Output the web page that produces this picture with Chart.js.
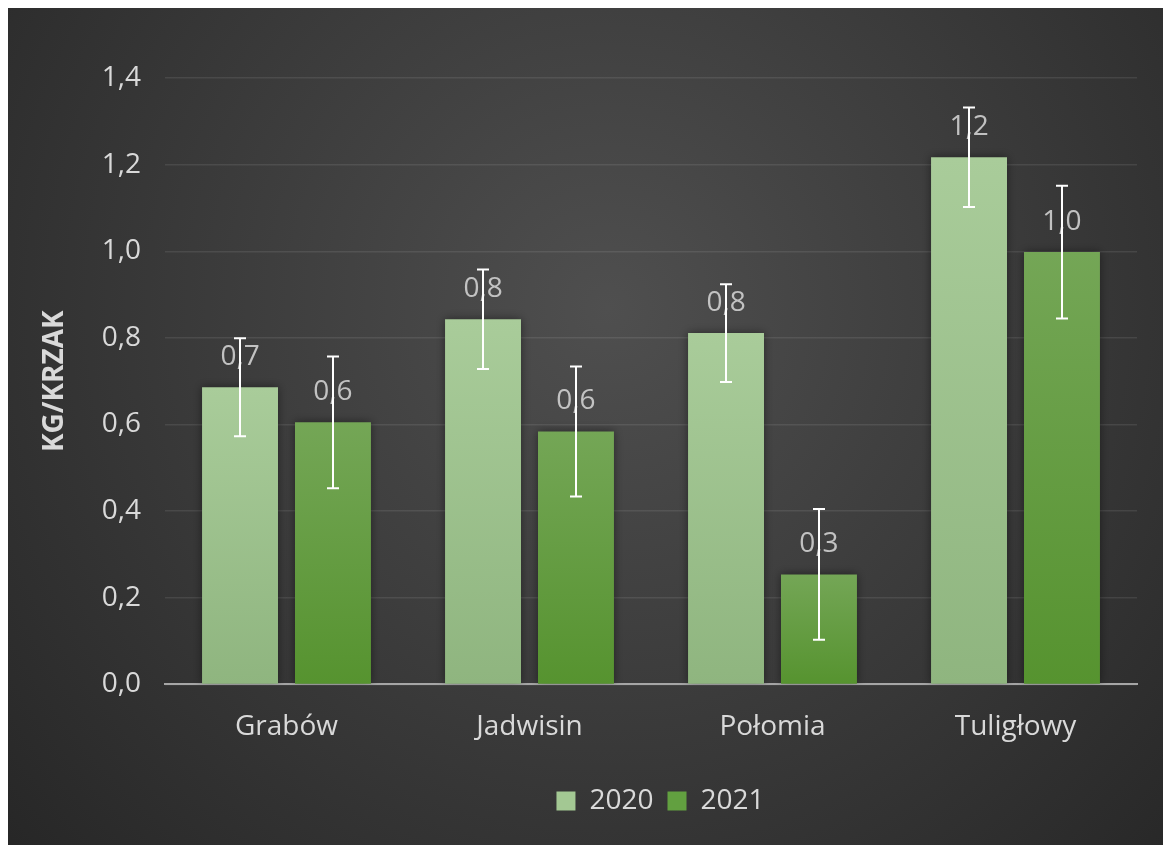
<!DOCTYPE html>
<html>
<head>
<meta charset="utf-8">
<script src="https://cdn.jsdelivr.net/npm/chart.js@4"></script>
<style>
  html, body { margin: 0; padding: 0; background: #ffffff; }
  #wrap { position: absolute; left: 8px; top: 8px; width: 1155px; height: 837px; }
</style>
</head>
<body>
<div id="wrap"><canvas id="c" width="1155" height="837"></canvas></div>
<script>
const categories = ["Grabów", "Jadwisin", "Połomia", "Tuligłowy"];
const seriesNames = ["2020", "2021"];
const values2020 = [0.686, 0.843, 0.811, 1.217];
const values2021 = [0.605, 0.584, 0.254, 0.998];
const errors2020 = [0.113, 0.115, 0.113, 0.115];
const errors2021 = [0.152, 0.150, 0.151, 0.153];
const yTicks = [0, 0.2, 0.4, 0.6, 0.8, 1.0, 1.2, 1.4];
const yTitle = "KG/KRZAK";

const FONT = "'Open Sans', 'Noto Sans', sans-serif";
const fmt = v => v.toFixed(1).replace('.', ',');

function barGradient(topColor, bottomColor) {
  return (ctx) => {
    const chart = ctx.chart;
    const ys = chart.scales && chart.scales.y;
    if (!ys || !chart.chartArea || ctx.raw === undefined) return topColor;
    const top = ys.getPixelForValue(ctx.raw);
    const bot = ys.getPixelForValue(0);
    if (!isFinite(top) || !isFinite(bot) || top === bot) return topColor;
    const g = chart.ctx.createLinearGradient(0, top, 0, bot);
    g.addColorStop(0, topColor);
    g.addColorStop(1, bottomColor);
    return g;
  };
}

const bgPlugin = {
  id: 'bg',
  beforeDraw(chart) {
    const { ctx, width, height } = chart;
    ctx.save();
    const g = ctx.createRadialGradient(600, 300, 0, 600, 300, 820);
    g.addColorStop(0, '#4f4f4f');
    g.addColorStop(1, '#262626');
    ctx.fillStyle = g;
    ctx.fillRect(0, 0, width, height);
    ctx.restore();
  }
};

const legendShift = {
  id: 'legendShift',
  afterLayout(chart) {
    const lg = chart.legend;
    if (lg) { lg.left += 88; lg.right += 88; }
  }
};

const shadowPlugin = {
  id: 'barShadow',
  beforeDatasetDraw(chart) {
    const ctx = chart.ctx;
    ctx.save();
    ctx.shadowColor = 'rgba(0,0,0,0.45)';
    ctx.shadowBlur = 9;
    ctx.shadowOffsetX = 0;
    ctx.shadowOffsetY = 0;
  },
  afterDatasetDraw(chart) {
    chart.ctx.restore();
  }
};

const labelsAndErrors = {
  id: 'labelsAndErrors',
  afterDatasetsDraw(chart) {
    const ctx = chart.ctx;
    const ys = chart.scales.y;
    const errs = [errors2020, errors2021];
    ctx.save();
    ctx.font = "28px " + FONT;
    ctx.fillStyle = 'rgba(205,205,205,0.92)';
    ctx.textAlign = 'center';
    ctx.textBaseline = 'middle';
    chart.data.datasets.forEach((ds, di) => {
      const meta = chart.getDatasetMeta(di);
      meta.data.forEach((bar, i) => {
        ctx.fillText(fmt(ds.data[i]), bar.x, bar.y - 30);
      });
    });
    ctx.restore();
    ctx.save();
    ctx.strokeStyle = '#ffffff';
    ctx.lineWidth = 2;
    chart.data.datasets.forEach((ds, di) => {
      const meta = chart.getDatasetMeta(di);
      meta.data.forEach((bar, i) => {
        const v = ds.data[i], e = errs[di][i];
        const yHi = ys.getPixelForValue(v + e);
        const yLo = ys.getPixelForValue(v - e);
        const x = Math.round(bar.x);
        ctx.beginPath();
        ctx.moveTo(x, yHi); ctx.lineTo(x, yLo);
        ctx.moveTo(x - 6, yHi); ctx.lineTo(x + 6, yHi);
        ctx.moveTo(x - 6, yLo); ctx.lineTo(x + 6, yLo);
        ctx.stroke();
      });
    });
    ctx.restore();
  }
};

new Chart(document.getElementById('c'), {
  type: 'bar',
  data: {
    labels: categories,
    datasets: [
      { label: seriesNames[0], data: values2020,
        backgroundColor: barGradient('#a9cc9a', '#8fb57f'),
        borderWidth: 0, categoryPercentage: 0.765, barPercentage: 0.817 },
      { label: seriesNames[1], data: values2021,
        backgroundColor: barGradient('#74a656', '#56932f'),
        borderWidth: 0, categoryPercentage: 0.765, barPercentage: 0.817 }
    ]
  },
  options: {
    responsive: false,
    animation: false,
    devicePixelRatio: 1,
    layout: { padding: { left: 0, right: 26, top: 70, bottom: 20 } },
    plugins: {
      legend: {
        position: 'bottom',
        labels: {
          color: '#d9d9d9',
          font: { family: FONT, size: 28 },
          boxWidth: 19, boxHeight: 19, padding: 14,
          generateLabels(chart) {
            return chart.data.datasets.map((ds, i) => ({
              text: ds.label,
              fillStyle: i === 0 ? '#a3c893' : '#62a040',
              strokeStyle: 'rgba(0,0,0,0)',
              lineWidth: 0,
              fontColor: '#d9d9d9',
              datasetIndex: i
            }));
          }
        }
      },
      tooltip: { enabled: false }
    },
    scales: {
      x: {
        grid: { display: false, drawTicks: false },
        border: { display: true, color: '#a6a6a6', width: 2 },
        afterFit(scale) { scale.height += 3; },
        ticks: { color: '#d9d9d9', font: { family: FONT, size: 28 }, padding: 26 }
      },
      y: {
        min: 0, max: 1.4,
        afterBuildTicks(scale) { scale.ticks = yTicks.map(v => ({ value: v })); },
        afterFit(scale) { scale.width = 157; },
        grid: { color: 'rgba(255,255,255,0.09)', lineWidth: 1.5, drawTicks: false },
        border: { display: false },
        ticks: { color: '#d9d9d9', font: { family: FONT, size: 28 }, padding: 24,
                 callback: v => fmt(v) },
        title: { display: true, text: yTitle, color: '#d9d9d9',
                 font: { family: FONT, size: 28, weight: 'bold' },
                 padding: { top: 30, bottom: 0 } }
      }
    }
  },
  plugins: [bgPlugin, legendShift, shadowPlugin, labelsAndErrors]
});
</script>
</body>
</html>
